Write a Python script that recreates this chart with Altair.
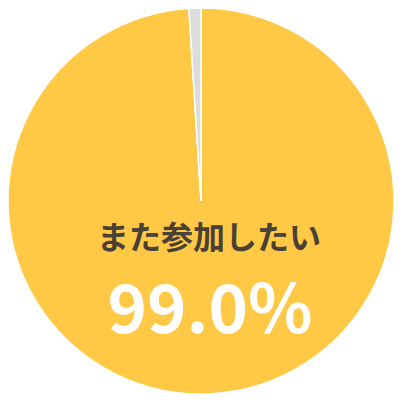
import altair as alt
import pandas as pd

categories = ["また参加したい", "その他"]
values = [99.0, 1.0]
colors = ["#FFC845", "#DCDCDC"]
label_main = "また参加したい"
label_pct = "99.0%"

df = pd.DataFrame({"cat": categories, "val": values, "order": [0, 1]})

W = 386
cx = 193
cy = 193

pie = alt.Chart(df).mark_arc(outerRadius=193, stroke="white", strokeWidth=1.5).encode(
    theta=alt.Theta("val:Q", stack=True),
    color=alt.Color("cat:N", scale=alt.Scale(domain=categories, range=colors), legend=None),
    order=alt.Order("order:Q"),
    x=alt.value(cx),
    y=alt.value(cy),
)

t1 = alt.Chart(pd.DataFrame({"t": [label_main]})).mark_text(
    font="Noto Sans CJK JP", fontWeight="bold", fontSize=32, color="#4A4035",
    align="center", baseline="middle"
).encode(text="t:N", x=alt.value(209 - 8), y=alt.value(239 - 8))

t2 = alt.Chart(pd.DataFrame({"t": [label_pct]})).mark_text(
    font="Noto Sans CJK JP", fontWeight="bold", fontSize=67, color="white",
    align="center", baseline="middle"
).encode(text="t:N", x=alt.value(210 - 8), y=alt.value(313 - 8))

chart = alt.layer(pie, t1, t2).properties(
    width=W, height=W, padding=0, autosize="none"
).configure_view(stroke=None)

chart.save("out.html", embed_options={"renderer": "svg", "actions": False})
